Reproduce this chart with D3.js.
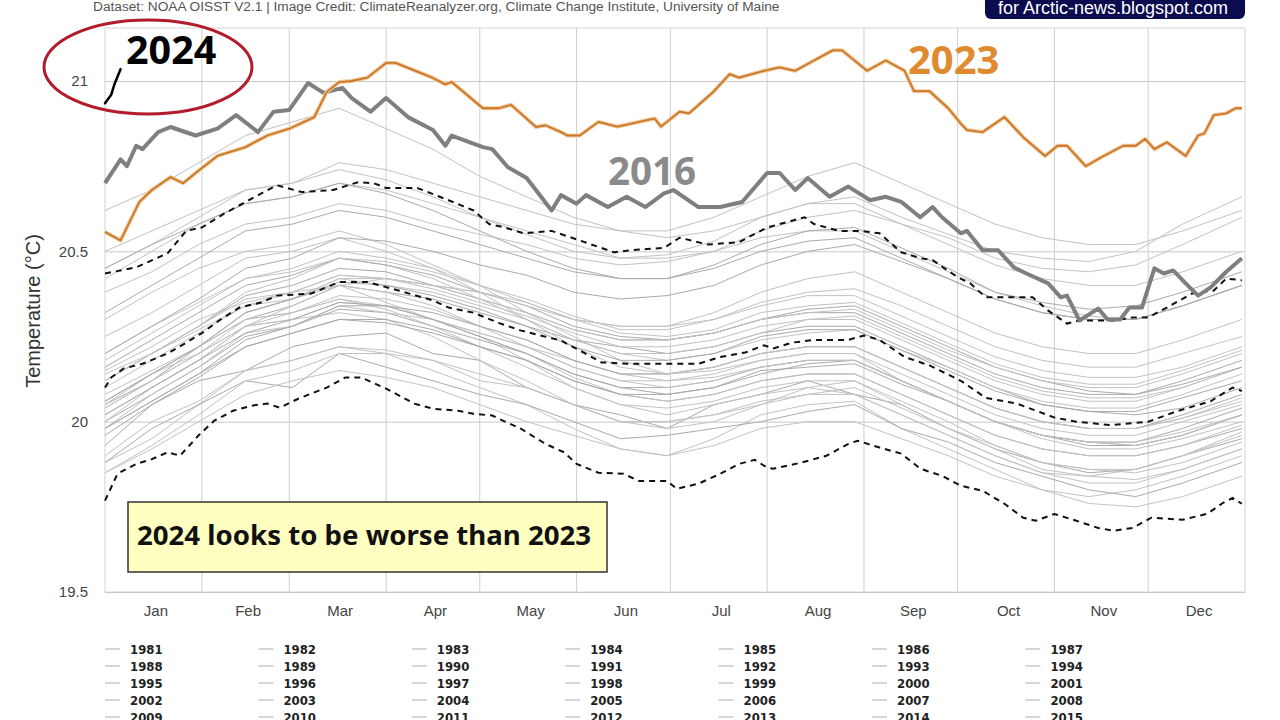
<!DOCTYPE html>
<html><head><meta charset="utf-8">
<script src="https://cdn.jsdelivr.net/npm/d3@7"></script>
<style>
html,body{margin:0;padding:0;background:#fff;}
svg{display:block;}
</style></head>
<body>
<svg id="chart" width="1280" height="720"></svg>
<script>
// ---------------- DATA ----------------
const monthNames = ["Jan","Feb","Mar","Apr","May","Jun","Jul","Aug","Sep","Oct","Nov","Dec"];
const monthStarts = [0,31,59,90,120,151,181,212,243,273,304,334,365];
const yTicks = [19.5, 20, 20.5, 21];
const yTickLabels = ["19.5","20","20.5","21"];

// 2023 (orange)
const days2023 = [0,5,11,15,21,25,29,36,45,52,59,67,71,75,79,84,90,93,105,109,111,121,126,130,138,141,146,148,152,158,164,166,176,178,184,187,195,200,203,211,216,221,227,233,236,244,250,256,259,264,270,274,276,281,288,294,301,305,308,314,319,326,330,333,336,340,346,350,352,355,359,362,364];
const temps2023 = [20.557,20.532,20.645,20.68,20.718,20.70,20.73,20.78,20.806,20.84,20.86,20.894,20.968,20.997,21.0,21.01,21.053,21.053,21.009,20.99,20.997,20.92,20.92,20.93,20.865,20.87,20.85,20.84,20.84,20.88,20.866,20.87,20.89,20.866,20.91,20.905,20.97,21.02,21.01,21.03,21.04,21.03,21.06,21.09,21.09,21.03,21.06,21.03,20.97,20.97,20.92,20.875,20.856,20.85,20.894,20.835,20.78,20.81,20.81,20.75,20.776,20.81,20.81,20.83,20.80,20.82,20.78,20.84,20.846,20.90,20.905,20.92,20.92];

// 2016 (thick grey)
const days2016 = [0,5,7,10,12,17,21,29,36,42,49,54,59,65,70,76,79,85,90,97,105,109,111,121,124,129,135,143,146,151,154,161,167,173,179,182,190,197,204,212,216,221,225,232,238,245,250,255,261,265,268,274,276,281,286,291,295,302,306,308,312,318,321,325,328,332,336,339,342,346,350,354,359,364];
const temps2016 = [20.70,20.77,20.75,20.81,20.80,20.85,20.865,20.84,20.86,20.90,20.85,20.91,20.915,20.994,20.965,20.98,20.95,20.91,20.95,20.894,20.856,20.81,20.84,20.806,20.80,20.747,20.715,20.62,20.665,20.64,20.665,20.63,20.66,20.63,20.67,20.68,20.63,20.63,20.645,20.73,20.73,20.68,20.715,20.66,20.69,20.65,20.66,20.645,20.60,20.63,20.60,20.553,20.56,20.503,20.503,20.453,20.435,20.406,20.365,20.37,20.297,20.332,20.30,20.30,20.335,20.335,20.45,20.435,20.444,20.406,20.37,20.394,20.44,20.48];

// 2024 (black, first days)
const days2024 = [0,2,3,5];
const temps2024 = [20.935,20.96,20.99,21.035];

// +2 sigma (upper dashed)
const daysUpper = [0,10,20,26,31,38,45,55,63,73,81,86,90,100,110,118,123,128,134,143,152,163,168,179,184,193,203,212,220,224,227,235,242,248,255,261,265,273,277,282,293,297,302,308,312,323,329,334,340,348,355,359,364];
const tempsUpper = [20.435,20.453,20.494,20.56,20.57,20.61,20.645,20.694,20.674,20.68,20.703,20.70,20.686,20.686,20.65,20.62,20.58,20.57,20.553,20.56,20.532,20.497,20.503,20.51,20.54,20.52,20.527,20.57,20.59,20.60,20.58,20.56,20.56,20.553,20.497,20.48,20.474,20.424,20.406,20.365,20.365,20.365,20.326,20.288,20.297,20.297,20.306,20.306,20.335,20.376,20.385,20.42,20.415];

// 1982-2011 mean (middle dashed)
const daysMean = [0,2,6,12,20,26,31,37,43,50,55,66,75,84,94,105,110,118,126,133,146,152,159,168,190,197,205,211,214,220,227,238,243,248,256,264,274,282,292,304,311,322,334,343,354,361,364];
const tempsMean = [20.10,20.13,20.156,20.17,20.20,20.232,20.26,20.30,20.335,20.35,20.37,20.376,20.41,20.41,20.385,20.356,20.335,20.32,20.29,20.268,20.238,20.209,20.174,20.17,20.17,20.19,20.203,20.224,20.215,20.232,20.24,20.24,20.253,20.24,20.19,20.165,20.12,20.07,20.053,20.012,20.0,19.99,20.0,20.03,20.06,20.10,20.09];

// -2 sigma (lower dashed)
const daysLower = [0,4,10,15,20,24,30,35,41,47,52,56,62,71,77,82,90,99,105,113,118,124,126,133,141,147,151,158,166,171,180,183,190,197,203,208,212,214,223,231,238,241,248,255,261,268,274,281,288,294,298,304,311,318,323,329,335,345,353,358,361,364];
const tempsLower = [19.768,19.847,19.876,19.89,19.91,19.90,19.96,20.003,20.032,20.047,20.053,20.041,20.068,20.10,20.13,20.13,20.097,20.053,20.038,20.032,20.023,20.018,20.009,19.98,19.935,19.91,19.876,19.85,19.847,19.826,19.826,19.803,19.818,19.847,19.876,19.888,19.865,19.862,19.88,19.90,19.935,19.944,19.924,19.906,19.862,19.841,19.812,19.797,19.759,19.718,19.709,19.729,19.709,19.688,19.68,19.688,19.718,19.712,19.73,19.762,19.776,19.759];

// other years (thin grey)
const greyDays = [0,15,30,45,60,75,90,105,120,135,150,165,180,195,210,225,240,255,270,285,300,315,330,345,364];
const greyYears = [1981,1982,1983,1984,1985,1986,1987,1988,1989,1990,1991,1992,1993,1994,1995,1996,1997,1998,1999,2000,2001,2002,2003,2004,2005,2006,2007,2008,2009,2010,2011,2012,2013,2014,2015,2017,2018,2019,2020,2021,2022];
const greyTemps = [
[19.93,20.05,20.12,20.15,20.22,20.25,20.26,20.20,20.18,20.10,20.05,20.02,19.98,20.05,20.08,20.12,20.08,20.05,19.98,19.92,19.88,19.85,19.86,19.90,19.95],
[19.88,19.95,20.05,20.15,20.18,20.22,20.20,20.15,20.10,20.05,19.98,19.92,19.90,19.95,20.02,20.05,20.06,19.98,19.92,19.86,19.80,19.78,19.80,19.84,19.90],
[20.15,20.22,20.30,20.35,20.38,20.40,20.35,20.30,20.25,20.18,20.10,20.05,20.02,20.05,20.08,20.10,20.08,20.02,19.96,19.90,19.85,19.84,19.86,19.90,19.97],
[19.88,19.98,20.05,20.12,20.10,20.20,20.16,20.12,20.08,20.05,20.00,19.95,19.96,19.98,20.00,20.03,20.05,19.98,19.94,19.88,19.84,19.80,19.78,19.82,19.88],
[19.85,19.92,20.00,20.08,20.12,20.15,20.13,20.10,20.05,20.00,19.96,19.92,19.90,19.93,19.98,20.00,20.00,19.95,19.90,19.84,19.80,19.76,19.75,19.78,19.84],
[19.90,20.00,20.06,20.15,20.18,20.22,20.21,20.18,20.14,20.10,20.05,20.00,20.00,20.02,20.05,20.08,20.10,20.04,19.98,19.93,19.88,19.86,19.85,19.88,19.94],
[20.05,20.12,20.22,20.30,20.34,20.40,20.38,20.36,20.32,20.28,20.24,20.22,20.20,20.22,20.26,20.28,20.28,20.22,20.16,20.10,20.05,20.03,20.02,20.04,20.10],
[20.05,20.14,20.20,20.28,20.30,20.32,20.30,20.25,20.18,20.12,20.05,20.00,19.98,20.00,20.05,20.10,20.12,20.05,19.98,19.92,19.86,19.84,19.83,19.86,19.92],
[19.85,19.93,20.02,20.12,20.15,20.20,20.20,20.18,20.12,20.10,20.05,20.00,20.00,20.02,20.06,20.08,20.08,20.02,19.96,19.90,19.85,19.82,19.82,19.86,19.92],
[20.00,20.08,20.16,20.25,20.28,20.33,20.32,20.28,20.24,20.20,20.14,20.10,20.08,20.10,20.15,20.16,20.17,20.11,20.06,20.00,19.96,19.94,19.93,19.96,20.02],
[20.02,20.10,20.18,20.28,20.30,20.35,20.34,20.30,20.26,20.22,20.18,20.14,20.12,20.13,20.16,20.18,20.18,20.12,20.06,20.00,19.95,19.92,19.92,19.95,20.00],
[20.04,20.12,20.20,20.30,20.32,20.36,20.33,20.28,20.22,20.16,20.10,20.05,20.04,20.06,20.10,20.12,20.12,20.06,20.00,19.93,19.88,19.86,19.86,19.90,19.96],
[19.96,20.05,20.13,20.22,20.26,20.30,20.29,20.26,20.22,20.18,20.12,20.08,20.06,20.08,20.12,20.14,20.14,20.08,20.02,19.96,19.92,19.90,19.90,19.93,19.98],
[19.98,20.08,20.16,20.26,20.28,20.34,20.32,20.30,20.26,20.22,20.16,20.12,20.12,20.14,20.18,20.20,20.20,20.14,20.08,20.02,19.98,19.96,19.96,20.00,20.05],
[20.08,20.15,20.22,20.30,20.32,20.36,20.34,20.30,20.25,20.20,20.13,20.08,20.06,20.08,20.12,20.14,20.14,20.08,20.02,19.96,19.92,19.90,19.90,19.93,19.99],
[19.98,20.06,20.14,20.22,20.26,20.30,20.30,20.27,20.22,20.18,20.12,20.08,20.08,20.10,20.14,20.17,20.18,20.12,20.06,20.00,19.96,19.93,19.93,19.96,20.02],
[20.00,20.10,20.18,20.28,20.34,20.40,20.42,20.40,20.38,20.35,20.30,20.28,20.28,20.32,20.38,20.42,20.44,20.38,20.32,20.26,20.22,20.20,20.20,20.24,20.30],
[20.30,20.38,20.45,20.50,20.52,20.56,20.52,20.46,20.40,20.32,20.25,20.18,20.14,20.15,20.18,20.20,20.20,20.12,20.06,20.00,19.96,19.94,19.93,19.96,20.02],
[20.02,20.10,20.18,20.26,20.30,20.35,20.34,20.30,20.25,20.20,20.14,20.10,20.10,20.12,20.16,20.18,20.18,20.12,20.06,20.00,19.96,19.94,19.94,19.98,20.04],
[20.04,20.12,20.20,20.28,20.32,20.37,20.36,20.33,20.28,20.24,20.18,20.14,20.14,20.16,20.20,20.22,20.22,20.16,20.10,20.04,20.00,19.98,19.98,20.01,20.06],
[20.06,20.14,20.22,20.32,20.36,20.42,20.40,20.38,20.34,20.30,20.24,20.20,20.18,20.20,20.24,20.26,20.27,20.21,20.16,20.10,20.06,20.04,20.04,20.08,20.14],
[20.12,20.20,20.28,20.37,20.40,20.45,20.44,20.40,20.36,20.32,20.27,20.24,20.24,20.26,20.30,20.32,20.32,20.26,20.20,20.14,20.10,20.08,20.08,20.12,20.18],
[20.20,20.28,20.35,20.42,20.44,20.48,20.46,20.42,20.36,20.30,20.24,20.20,20.20,20.22,20.26,20.30,20.31,20.25,20.19,20.13,20.09,20.07,20.07,20.10,20.16],
[20.12,20.20,20.28,20.36,20.38,20.43,20.42,20.39,20.35,20.31,20.26,20.22,20.22,20.24,20.28,20.30,20.30,20.24,20.18,20.12,20.08,20.06,20.06,20.10,20.16],
[20.16,20.24,20.32,20.40,20.43,20.48,20.46,20.43,20.38,20.34,20.28,20.25,20.24,20.26,20.30,20.33,20.34,20.28,20.22,20.16,20.12,20.09,20.08,20.11,20.16],
[20.10,20.18,20.26,20.34,20.38,20.43,20.42,20.40,20.36,20.32,20.27,20.24,20.24,20.26,20.30,20.32,20.33,20.27,20.21,20.16,20.12,20.10,20.10,20.14,20.20],
[20.14,20.20,20.27,20.34,20.36,20.40,20.38,20.34,20.28,20.22,20.16,20.12,20.10,20.12,20.16,20.18,20.18,20.12,20.06,20.00,19.96,19.94,19.94,19.97,20.02],
[19.98,20.06,20.14,20.24,20.28,20.34,20.34,20.32,20.28,20.24,20.18,20.14,20.14,20.16,20.20,20.22,20.22,20.16,20.10,20.04,20.00,19.98,19.98,20.02,20.08],
[20.06,20.14,20.22,20.32,20.36,20.42,20.42,20.40,20.38,20.34,20.30,20.28,20.28,20.30,20.35,20.38,20.39,20.34,20.28,20.22,20.18,20.16,20.16,20.20,20.25],
[20.25,20.32,20.40,20.48,20.50,20.54,20.50,20.45,20.38,20.30,20.22,20.16,20.14,20.16,20.20,20.22,20.22,20.16,20.10,20.04,20.00,19.98,19.98,20.01,20.07],
[20.06,20.14,20.22,20.32,20.36,20.41,20.40,20.37,20.33,20.28,20.22,20.18,20.18,20.20,20.25,20.27,20.27,20.21,20.15,20.09,20.05,20.03,20.03,20.07,20.12],
[20.12,20.20,20.28,20.38,20.42,20.48,20.47,20.44,20.40,20.36,20.31,20.27,20.27,20.30,20.34,20.37,20.37,20.31,20.25,20.19,20.15,20.13,20.13,20.16,20.22],
[20.18,20.26,20.34,20.42,20.45,20.50,20.48,20.45,20.40,20.35,20.30,20.26,20.25,20.27,20.32,20.34,20.35,20.29,20.23,20.17,20.13,20.11,20.11,20.15,20.21],
[20.20,20.28,20.36,20.45,20.48,20.54,20.53,20.50,20.46,20.43,20.38,20.36,20.37,20.40,20.46,20.50,20.52,20.47,20.42,20.36,20.32,20.30,20.30,20.34,20.40],
[20.38,20.44,20.52,20.58,20.60,20.64,20.62,20.58,20.55,20.52,20.48,20.46,20.47,20.50,20.56,20.60,20.62,20.58,20.54,20.48,20.45,20.44,20.46,20.52,20.60],
[20.42,20.50,20.58,20.64,20.66,20.70,20.68,20.64,20.60,20.56,20.52,20.48,20.48,20.50,20.54,20.56,20.56,20.50,20.44,20.38,20.34,20.31,20.30,20.34,20.40],
[20.32,20.40,20.48,20.56,20.58,20.62,20.60,20.56,20.52,20.48,20.44,20.42,20.42,20.45,20.50,20.53,20.54,20.48,20.42,20.36,20.32,20.30,20.30,20.34,20.40],
[20.45,20.52,20.60,20.68,20.70,20.76,20.74,20.70,20.66,20.62,20.58,20.56,20.56,20.60,20.66,20.72,20.76,20.70,20.64,20.58,20.54,20.52,20.52,20.56,20.62],
[20.62,20.68,20.76,20.84,20.88,20.92,20.86,20.80,20.72,20.66,20.60,20.56,20.54,20.56,20.60,20.64,20.64,20.58,20.52,20.46,20.42,20.40,20.40,20.44,20.50],
[20.45,20.52,20.58,20.64,20.66,20.70,20.67,20.62,20.56,20.50,20.45,20.42,20.42,20.46,20.52,20.56,20.57,20.51,20.45,20.38,20.35,20.33,20.34,20.38,20.44],
[20.50,20.56,20.62,20.68,20.70,20.74,20.71,20.66,20.60,20.55,20.50,20.48,20.49,20.53,20.60,20.64,20.66,20.60,20.55,20.50,20.48,20.47,20.50,20.58,20.66]
];

// legend entries visible in the picture (the rest fall below the frame)
const legendYears = d3.range(1981, 2016);

// ---------------- DRAW ----------------
const svg = d3.select("#chart");
const L = 105, R = 1245, T = 28, B = 592;
const x = d3.scaleLinear().domain([0, 365]).range([L, R]);
const y = d3.scaleLinear().domain([19.5, 21]).range([B, 81]);

// header
svg.append("text").attr("x", 93).attr("y", 11)
  .attr("font-family", "Liberation Sans, Arial, sans-serif").attr("font-size", 13.7).attr("fill", "#555")
  .text("Dataset: NOAA OISST V2.1 | Image Credit: ClimateReanalyzer.org, Climate Change Institute, University of Maine");

// badge
svg.append("rect").attr("x", 985).attr("y", -8).attr("width", 260).attr("height", 27).attr("rx", 6)
  .attr("fill", "#0b0b4f");
svg.append("text").attr("x", 1113).attr("y", 14).attr("text-anchor", "middle")
  .attr("font-family", "Liberation Sans, Arial, sans-serif").attr("font-size", 18).attr("fill", "#fff")
  .text("for Arctic-news.blogspot.com");

// plot border
svg.append("rect").attr("x", L).attr("y", T).attr("width", R - L).attr("height", B - T)
  .attr("fill", "none").attr("stroke", "#d4d4d4").attr("stroke-width", 1);

// vertical grid (month boundaries)
svg.append("g").selectAll("line").data(monthStarts.slice(1, 12)).join("line")
  .attr("x1", d => x(d)).attr("x2", d => x(d)).attr("y1", T).attr("y2", B)
  .attr("stroke", "#cfcfcf").attr("stroke-width", 1);

// y axis with grid
const yAxis = d3.axisLeft(y).tickValues(yTicks).tickSize(-(R - L)).tickPadding(17)
  .tickFormat((d, i) => yTickLabels[i]);
const gy = svg.append("g").attr("transform", `translate(${L},0)`).call(yAxis);
gy.select(".domain").remove();
gy.selectAll(".tick line").attr("stroke", "#c8c8c8");
gy.selectAll(".tick text").attr("font-family", "Liberation Sans, Arial, sans-serif").attr("font-size", 15).attr("fill", "#444");

// x axis month labels
const xAxis = d3.axisBottom(x).tickValues(monthStarts.slice(0, 12).map((d, i) => (d + monthStarts[i + 1]) / 2))
  .tickSize(0).tickPadding(13).tickFormat((d, i) => monthNames[i]);
const gx = svg.append("g").attr("transform", `translate(2,${B})`).call(xAxis);
gx.select(".domain").remove();
gx.selectAll(".tick text").attr("font-family", "Liberation Sans, Arial, sans-serif").attr("font-size", 15).attr("fill", "#444");

// y label
svg.append("text").attr("transform", "translate(40,311) rotate(-90)").attr("text-anchor", "middle")
  .attr("font-family", "Liberation Sans, Arial, sans-serif").attr("font-size", 20).attr("fill", "#333")
  .text("Temperature (°C)");

const line = d3.line().x(d => x(d[0])).y(d => y(d[1]));
const zipper = (ds, vs) => ds.map((d, i) => [d, vs[i]]);

// grey years
svg.append("g").selectAll("path").data(greyTemps).join("path")
  .attr("d", vs => line(zipper(greyDays, vs)))
  .attr("fill", "none").attr("stroke", (d, i) => i % 3 === 0 ? "#aaaaaa" : "#c2c2c2").attr("stroke-width", 1);

// dashed climatology lines
[[daysUpper, tempsUpper], [daysMean, tempsMean], [daysLower, tempsLower]].forEach(([ds, vs]) => {
  svg.append("path").attr("d", line(zipper(ds, vs)))
    .attr("fill", "none").attr("stroke", "#111").attr("stroke-width", 2).attr("stroke-dasharray", "6,5");
});

// 2016
svg.append("path").attr("d", line(zipper(days2016, temps2016)))
  .attr("fill", "none").attr("stroke", "#7f7f7f").attr("stroke-width", 4).attr("stroke-linejoin", "round");

// 2023
svg.append("path").attr("d", line(zipper(days2023, temps2023)))
  .attr("fill", "none").attr("stroke", "#f3c89a").attr("stroke-width", 4).attr("stroke-linejoin", "round");
svg.append("path").attr("d", line(zipper(days2023, temps2023)))
  .attr("fill", "none").attr("stroke", "#c9782a").attr("stroke-width", 1.8).attr("stroke-linejoin", "round");

// 2024
svg.append("path").attr("d", line(zipper(days2024, temps2024)))
  .attr("fill", "none").attr("stroke", "#000").attr("stroke-width", 2.5).attr("stroke-linecap", "round");

// annotations
svg.append("ellipse").attr("cx", 148).attr("cy", 67).attr("rx", 104).attr("ry", 47)
  .attr("fill", "none").attr("stroke", "#b31b2b").attr("stroke-width", 3);
svg.append("text").attr("x", 126).attr("y", 64)
  .attr("font-family", "Open Sans, sans-serif").attr("font-weight", 700).attr("font-size", 39.5).attr("fill", "#000")
  .text("2024");
svg.append("text").attr("x", 908).attr("y", 74)
  .attr("font-family", "Open Sans, sans-serif").attr("font-weight", 700).attr("font-size", 40).attr("fill", "#e08a30")
  .text("2023");
svg.append("text").attr("x", 608).attr("y", 185)
  .attr("font-family", "Open Sans, sans-serif").attr("font-weight", 700).attr("font-size", 38.5).attr("fill", "#8a8a8a")
  .text("2016");

// text box
svg.append("rect").attr("x", 128).attr("y", 502).attr("width", 479).attr("height", 70)
  .attr("fill", "#ffffc2").attr("stroke", "#333").attr("stroke-width", 1.5);
svg.append("text").attr("x", 137).attr("y", 545)
  .attr("font-family", "Noto Sans, sans-serif").attr("font-weight", 700).attr("font-size", 27.6).attr("fill", "#111")
  .text("2024 looks to be worse than 2023");

// legend
const lg = svg.append("g");
legendYears.forEach((yr, i) => {
  const col = i % 7, row = Math.floor(i / 7);
  const tx = 130 + col * 153.4, ty = 649 + row * 17;
  lg.append("line").attr("x1", tx - 25).attr("x2", tx - 10).attr("y1", ty).attr("y2", ty)
    .attr("stroke", "#c8c8c8").attr("stroke-width", 1.5);
  lg.append("text").attr("x", tx).attr("y", ty + 5)
    .attr("font-family", "DejaVu Sans Condensed, DejaVu Sans, sans-serif").attr("font-stretch", "condensed")
    .attr("font-weight", 600).attr("font-size", 13).attr("fill", "#222").text(yr);
});
</script>
</body></html>
